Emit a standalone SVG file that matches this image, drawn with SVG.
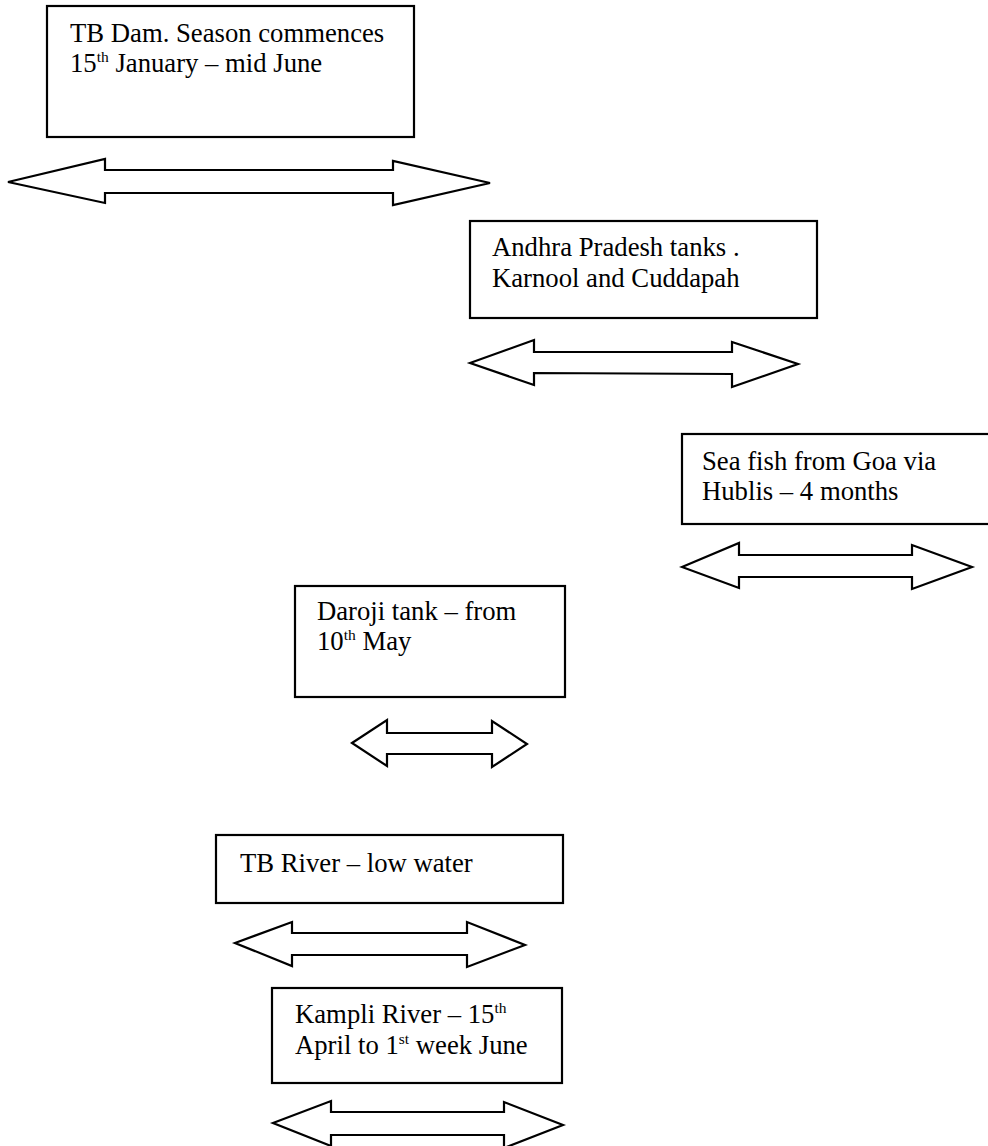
<svg xmlns="http://www.w3.org/2000/svg" width="988" height="1146" viewBox="0 0 988 1146">
<style>
.box{fill:#fff;stroke:#000;stroke-width:2.2}
.arr{fill:#fff;stroke:#000;stroke-width:2.2;stroke-linejoin:miter}
text{font-family:"Liberation Serif","Times New Roman",serif;font-size:26.7px;fill:#000}
.sup{font-size:15.5px}
</style>
<rect width="988" height="1146" fill="#fff"/>
<g id="node-tb-dam">
<rect class="box" x="47" y="6" width="367" height="131"/>
<text x="70" y="42">TB Dam. Season commences</text>
<text x="70" y="72">15<tspan class="sup" dy="-10">th</tspan><tspan dy="10"> January – mid June</tspan></text>
</g>
<g id="node-andhra">
<rect class="box" x="470" y="221" width="347" height="97"/>
<text x="492" y="256">Andhra Pradesh tanks .</text>
<text x="492" y="287">Karnool and Cuddapah</text>
</g>
<g id="node-sea-fish">
<rect class="box" x="682" y="434" width="320" height="90"/>
<text x="702" y="470">Sea fish from Goa via</text>
<text x="702" y="500">Hublis – 4 months</text>
</g>
<g id="node-daroji">
<rect class="box" x="295" y="586" width="270" height="111"/>
<text x="317" y="620">Daroji tank – from</text>
<text x="317" y="650">10<tspan class="sup" dy="-10">th</tspan><tspan dy="10"> May</tspan></text>
</g>
<g id="node-tb-river">
<rect class="box" x="216" y="835" width="347" height="68"/>
<text x="240" y="872">TB River – low water</text>
</g>
<g id="node-kampli">
<rect class="box" x="272" y="988" width="290" height="95"/>
<text x="295" y="1023">Kampli River – 15<tspan class="sup" dy="-10">th</tspan></text>
<text x="295" y="1054">April to 1<tspan class="sup" dy="-10">st</tspan><tspan dy="10"> week June</tspan></text>
</g>
<g id="connectors">
<polygon class="arr" points="8,182 105,159 105,170 393,170 393,161 490,183 393,205 393,193 105,193 105,203"/>
<polygon class="arr" points="470,363 534,340 534,352 732,352 732,342 798,364 732,387 732,374 534,373 534,385"/>
<polygon class="arr" points="682,567 739,543 739,555 912,555 912,545 972,567 912,589 912,577 739,577 739,588"/>
<polygon class="arr" points="352,743 387,720 387,733 492,733 492,721 527,744 492,767 492,754 387,754 387,766"/>
<polygon class="arr" points="235,943 292,922 292,933 467,933 467,922 525,945 467,967 467,955 292,955 292,966"/>
<polygon class="arr" points="273,1123 331,1101 331,1112 504,1112 504,1102 563,1125 504,1148 504,1135 331,1135 331,1146"/>
</g>
</svg>
